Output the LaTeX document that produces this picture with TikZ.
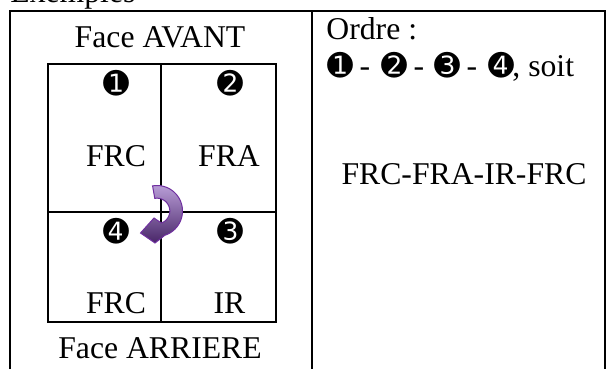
\documentclass[tikz,border=0pt]{standalone}
\usepackage{fontspec}
\setmainfont{Liberation Serif}
\newfontfamily\dingfont{DejaVu Sans}
\definecolor{arrowtop}{RGB}{184,156,214}
\definecolor{arrowbot}{RGB}{72,38,104}
\definecolor{arrowborder}{RGB}{112,48,160}
\begin{document}
\begin{tikzpicture}[x=0.5pt,y=-0.5pt,
  txt/.style={font=\fontsize{15.85}{19}\selectfont, inner sep=0pt, anchor=base},
  num/.style={font=\dingfont\fontsize{15.5}{15.5}\selectfont, inner sep=0pt, anchor=center},
  tableline/.style={line width=1pt, black},
  gridline/.style={line width=0.85pt, black}]
\useasboundingbox (0,0) rectangle (609,369);
% title
\node[txt, anchor=base west] (ex) at (10,3) {Exemples};
% outer table
\draw[tableline] (10,369) -- (10,11) -- (605,11) -- (605,369);
\draw[tableline] (312,11) -- (312,369);
% left column
\node[txt] (avant) at (160,48) {Face AVANT};
\draw[gridline] (48,64) rectangle (276,322);
\draw[gridline] (161,64) -- (161,322);
\draw[gridline] (48,212) -- (276,212);
\node[num] (n1) at (116,83) {➊};
\node[num] (n2) at (230,83) {➋};
\node[num] (n4) at (116,231) {➍};
\node[num] (n3) at (230,231) {➌};
\node[txt] (c1) at (116,166) {FRC};
\node[txt] (c2) at (229,166) {FRA};
\node[txt] (c4) at (116,313) {FRC};
\node[txt] (c3) at (229.5,313) {IR};
\node[txt] (arriere) at (160,358) {Face ARRIERE};
% curved arrow
\path[draw=arrowborder, line width=0.5pt, top color=arrowtop, bottom color=arrowbot]
  plot[domain=100:-72, samples=40] ({157+25.5*cos(\x)},{211-25.5*sin(\x)})
  -- (155,243) -- (140.5,233) -- (154,218)
  -- plot[domain=-70:100, samples=40] ({157+12.8*cos(\x)},{211-12.8*sin(\x)})
  -- cycle;
% right column
\node[txt, anchor=base west] (ordre) at (326,40) {Ordre :};
\node[num] (o1) at (340,65.5) {➊};
\node[txt] (d1) at (365,76) {-};
\node[num] (o2) at (394,65.5) {➋};
\node[txt] (d2) at (419,76) {-};
\node[num] (o3) at (447.5,65.5) {➌};
\node[txt] (d3) at (472,76) {-};
\node[num] (o4) at (501,65.5) {➍};
\node[txt, anchor=base west] (soit) at (512,76) {, soit};
\node[txt] (seq) at (464,184) {FRC-FRA-IR-FRC};
\end{tikzpicture}
\end{document}
